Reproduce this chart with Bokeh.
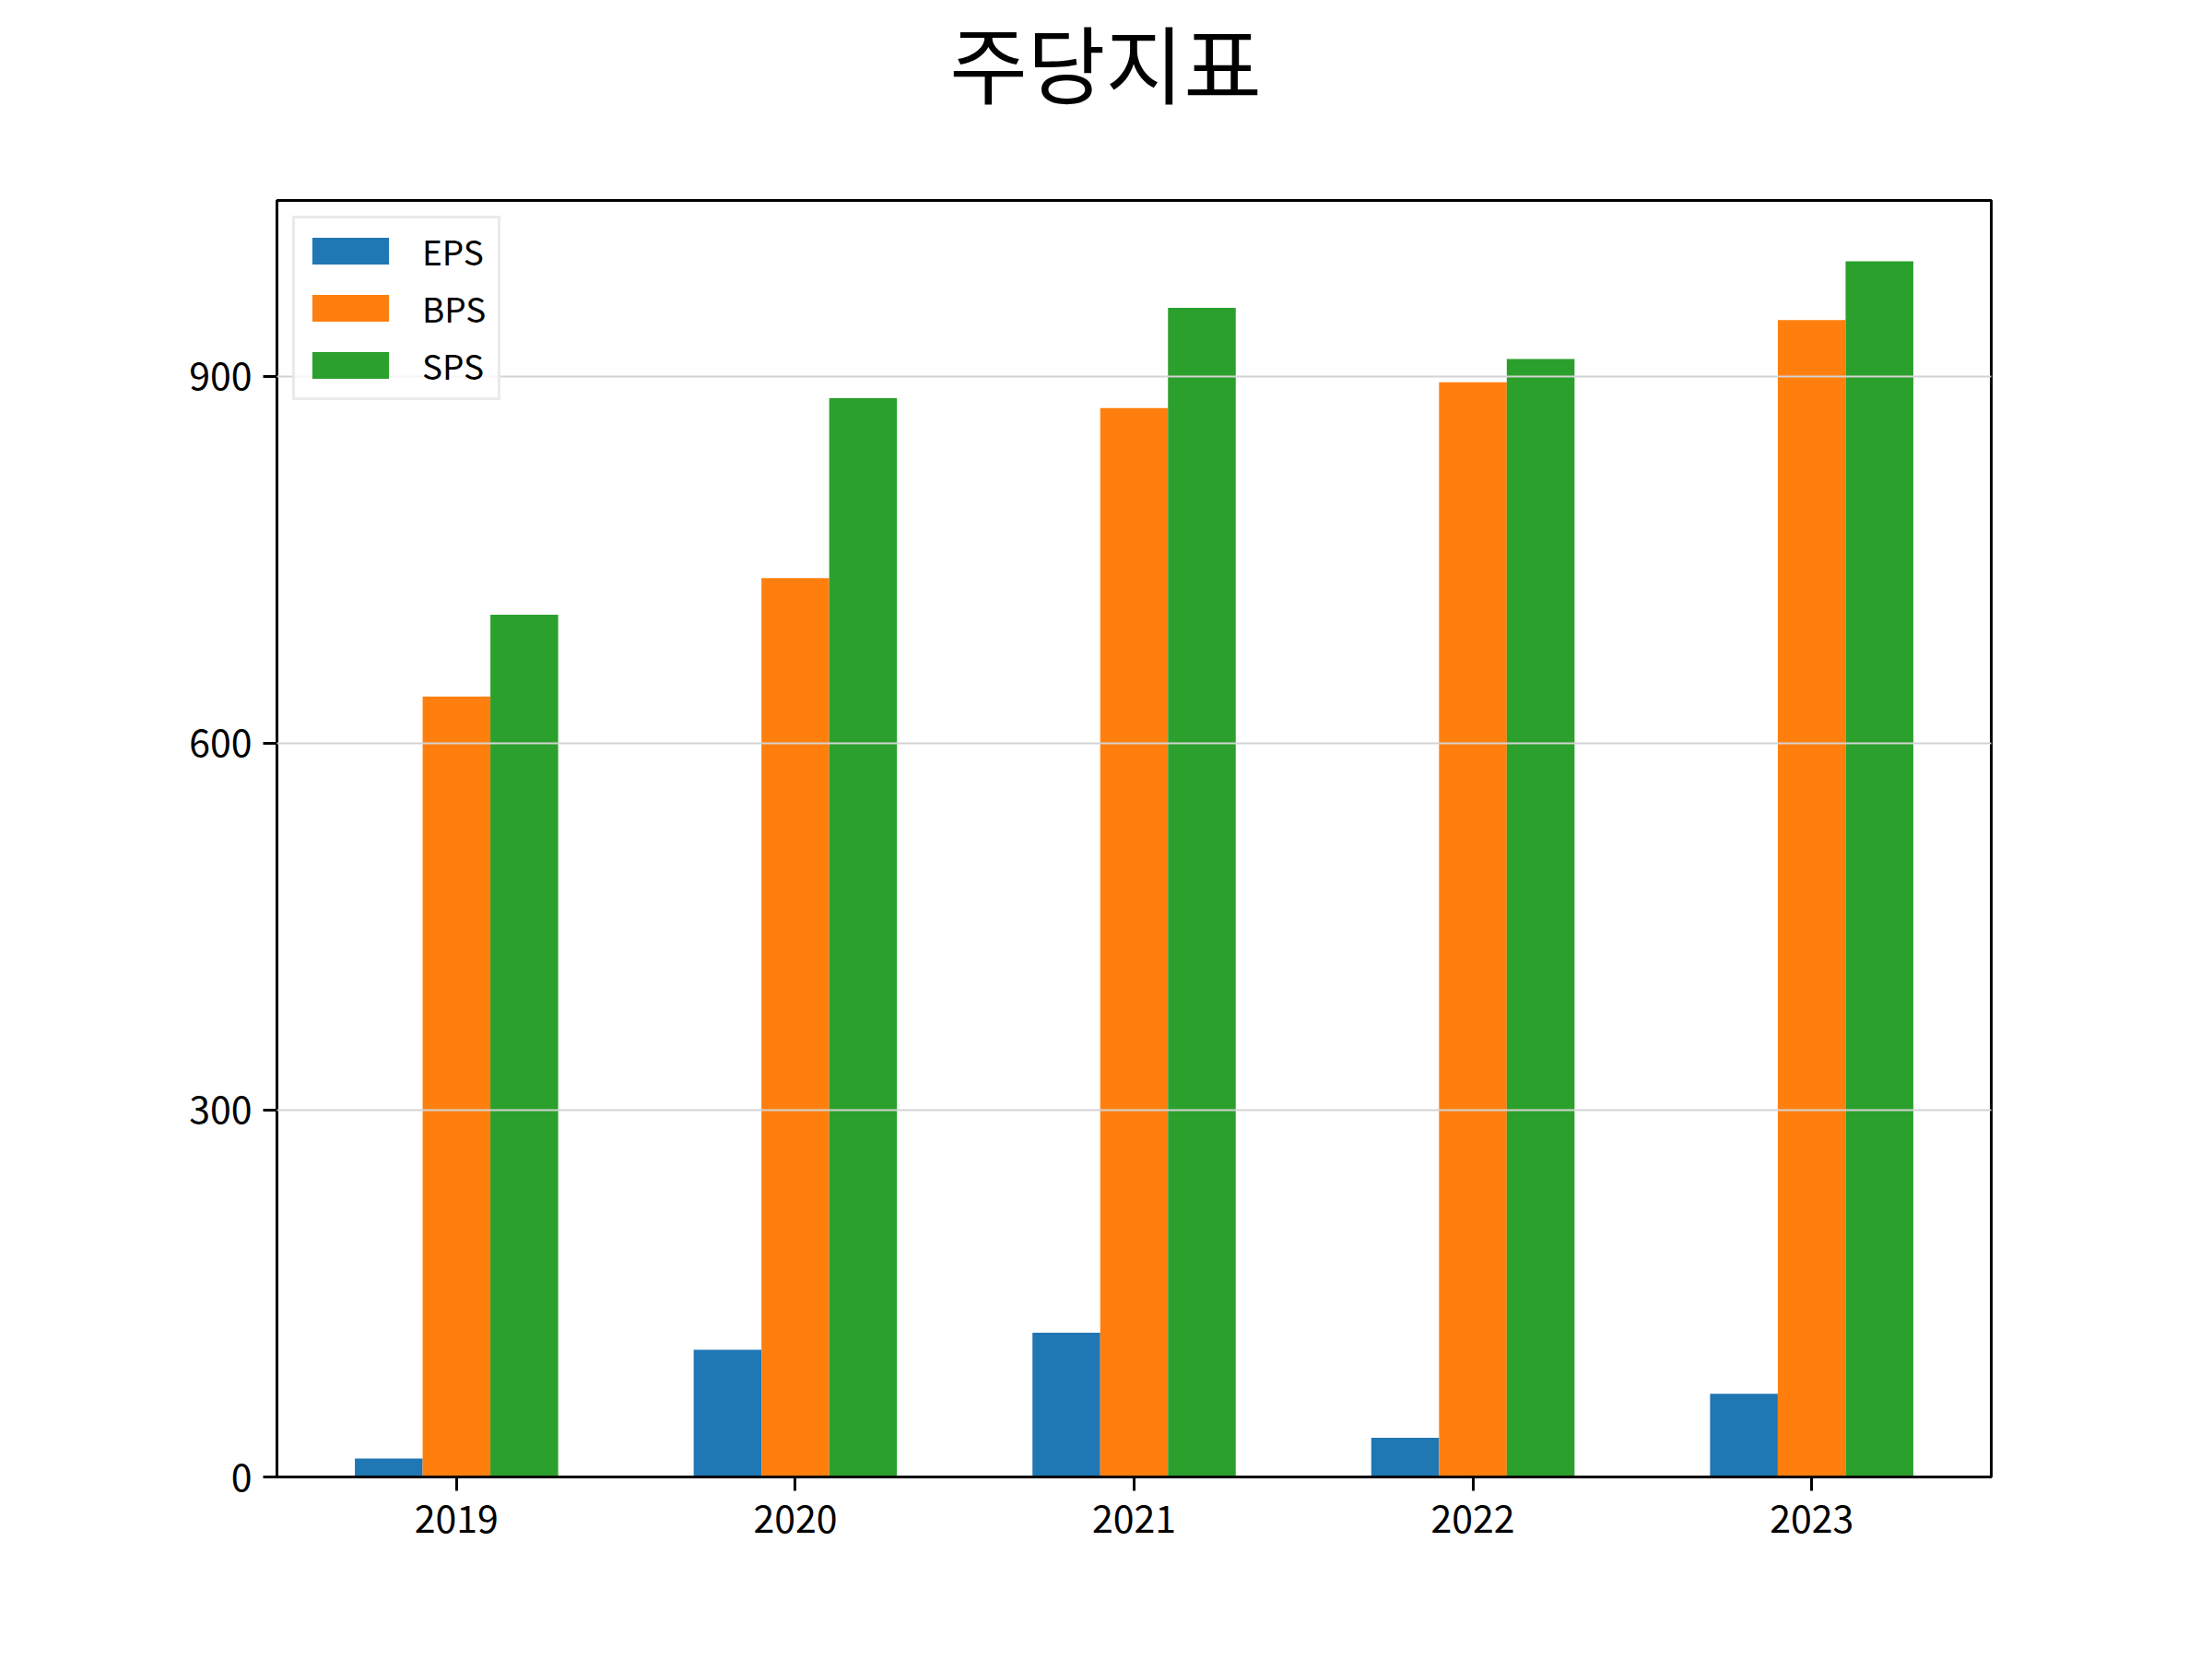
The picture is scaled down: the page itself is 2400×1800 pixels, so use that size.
from bokeh.plotting import figure
from bokeh.layouts import column
from bokeh.models import ColumnDataSource, FixedTicker, Range1d, Legend, LegendItem
from bokeh.core.properties import value
from bokeh.embed import file_html
from bokeh.resources import INLINE

years = ["2019", "2020", "2021", "2022", "2023"]
eps = [15, 104, 118, 32, 68]
bps = [638, 735, 874, 895, 946]
sps = [705, 882, 956, 914, 994]
series_names = ["EPS", "BPS", "SPS"]
series_values = [eps, bps, sps]
colors = ["#1f77b4", "#ff7f0e", "#2ca02c"]
y_ticks = [0, 300, 600, 900]
title_text = "주당지표"

FONT = "Noto Sans CJK KR"
W, H = 2384, 1784
TH = 150                      # height of the title strip
LEFT, TOP, RIGHT, BOTTOM = 300, 217, 224, 182
bar_w = 0.2
n = len(years)

# ---- title strip (its frame is aligned with the chart frame) ----
tf = figure(width=W, height=TH, output_backend="svg", toolbar_location=None,
            x_range=Range1d(LEFT, W - RIGHT), y_range=Range1d(0, TH),
            x_axis_location=None, y_axis_location=None,
            min_border=0, outline_line_color=None)
tf.grid.grid_line_color = None
tf.background_fill_color = "white"
tf.border_fill_color = "white"
tf.text(x=[1199], y=[85], text=[title_text],
        text_font=value(FONT), text_font_size="92px",
        text_align="center", text_baseline="alphabetic", text_color="black")

# ---- main chart ----
p = figure(width=W, height=H - TH, output_backend="svg", toolbar_location=None,
           x_range=Range1d(-0.3 - 0.23, n - 1 + 0.3 + 0.23),
           y_range=Range1d(0, max(sps) * 1.05),
           min_border_left=LEFT, min_border_right=RIGHT,
           min_border_top=TOP - TH, min_border_bottom=BOTTOM)

items = []
for k, (name, vals, col) in enumerate(zip(series_names, series_values, colors)):
    xs = [i + (k - 1) * bar_w for i in range(n)]
    src = ColumnDataSource(dict(x=xs, top=vals))
    r = p.vbar(x="x", top="top", bottom=0, width=bar_w, source=src,
               fill_color=col, line_color=None)
    items.append(LegendItem(label=name, renderers=[r]))

legend = Legend(items=items, location="top_left", margin=17, padding=8,
                glyph_width=104, glyph_height=36, label_height=30, label_width=74,
                spacing=8, label_standoff=26,
                label_text_font=FONT, label_text_font_size="37px",
                label_text_color="black",
                border_line_color="#d5d5d5", border_line_width=3,
                background_fill_color="white", background_fill_alpha=0.8)
p.add_layout(legend)

# axes
for ax in (p.xaxis[0], p.yaxis[0]):
    ax.axis_line_width = 3
    ax.major_tick_line_width = 3
    ax.major_tick_out = 15
    ax.major_tick_in = 0
    ax.minor_tick_line_color = None
    ax.major_label_text_font = FONT
    ax.major_label_text_font_size = "41px"
    ax.major_label_text_color = "black"
    ax.axis_line_color = "black"
    ax.major_tick_line_color = "black"

p.xaxis.ticker = FixedTicker(ticks=list(range(n)))
p.xaxis.major_label_overrides = {i: y for i, y in enumerate(years)}
p.xaxis.major_label_standoff = 15
p.yaxis.ticker = FixedTicker(ticks=y_ticks)
p.yaxis.major_label_standoff = 12

p.xgrid.grid_line_color = None
p.ygrid.grid_line_color = "#d3d3d3"
p.ygrid.grid_line_width = 2
p.ygrid.level = "guide"

p.outline_line_color = "black"
p.outline_line_width = 3
p.background_fill_color = "white"
p.border_fill_color = "white"

layout = column(tf, p, spacing=0)
open("out.html", "w").write(file_html(layout, INLINE))
